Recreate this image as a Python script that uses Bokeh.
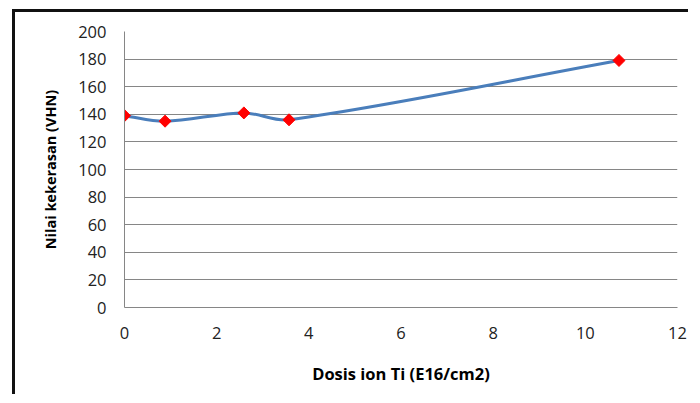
import numpy as np
from bokeh.plotting import figure
from bokeh.models import FixedTicker
from bokeh.embed import file_html
from bokeh.resources import INLINE

# Data
dose = [0, 0.88, 2.59, 3.57, 10.73]
hardness = [139, 135, 141, 136, 179]
x_ticks = [0, 2, 4, 6, 8, 10, 12]
y_ticks = [0, 20, 40, 60, 80, 100, 120, 140, 160, 180, 200]

FONT = "Open Sans"
X_MIN, X_MAX, Y_MIN, Y_MAX = 0, 12, 0, 200
FRAME_W, FRAME_H = 553, 276  # plot area size in px (used for smoothing in screen space)

p = figure(width=676, height=385, output_backend="svg", toolbar_location=None,
           x_range=(X_MIN, X_MAX), y_range=(Y_MIN, Y_MAX),
           min_border_left=109, min_border_right=14, min_border_top=19, min_border_bottom=90)
p.outline_line_color = None
p.background_fill_color = "white"
p.border_fill_color = "white"
p.styles = {"border-left": "3px solid #111111", "border-top": "3px solid #111111",
            "margin-left": "12px", "margin-top": "9px"}

# Smoothed line: Bezier segments with tangents computed in screen space
sx = FRAME_W / (X_MAX - X_MIN)
sy = FRAME_H / (Y_MAX - Y_MIN)
xs = np.array(dose, dtype=float) * sx
ys = np.array(hardness, dtype=float) * sy
n = len(xs)
tang = []
for i in range(n):
    a = max(i - 1, 0)
    b = min(i + 1, n - 1)
    d = np.array([xs[b] - xs[a], ys[b] - ys[a]])
    tang.append(d / np.hypot(*d))
x0, y0, x1, y1, cx0, cy0, cx1, cy1 = [], [], [], [], [], [], [], []
for i in range(n - 1):
    L = np.hypot(xs[i + 1] - xs[i], ys[i + 1] - ys[i]) / 3
    x0.append(dose[i]); y0.append(hardness[i])
    x1.append(dose[i + 1]); y1.append(hardness[i + 1])
    cx0.append((xs[i] + tang[i][0] * L) / sx)
    cy0.append((ys[i] + tang[i][1] * L) / sy)
    cx1.append((xs[i + 1] - tang[i + 1][0] * L) / sx)
    cy1.append((ys[i + 1] - tang[i + 1][1] * L) / sy)
p.bezier(x0=x0, y0=y0, x1=x1, y1=y1, cx0=cx0, cy0=cy0, cx1=cx1, cy1=cy1,
         line_color="#4A7EBB", line_width=3)

p.scatter(dose, hardness, marker="square", angle=np.pi / 4, size=8.5,
          fill_color="#FF0000", line_color="#FF0000")

# Axes
p.xaxis.ticker = FixedTicker(ticks=x_ticks)
p.yaxis.ticker = FixedTicker(ticks=y_ticks)
for ax in (p.xaxis[0], p.yaxis[0]):
    ax.major_tick_line_color = None
    ax.minor_tick_line_color = None
    ax.major_tick_out = 0
    ax.major_tick_in = 0
    ax.minor_tick_out = 0
    ax.axis_line_color = "#868686"
    ax.major_label_text_font = FONT
    ax.major_label_text_font_size = "16.5px"
    ax.major_label_text_color = "#222222"
    ax.axis_label_text_font = FONT
    ax.axis_label_text_font_style = "bold"
    ax.axis_label_text_color = "#000000"
p.xaxis.axis_label_text_font_size = "16.5px"
p.yaxis.axis_label_text_font_size = "14.5px"
p.xaxis.axis_label = "Dosis ion Ti (E16/cm2)"
p.yaxis.axis_label = "Nilai kekerasan (VHN)"
p.xaxis.major_label_standoff = 19
p.yaxis.major_label_standoff = 18
p.xaxis.axis_label_standoff = 20
p.yaxis.axis_label_standoff = 15

p.xgrid.grid_line_color = None
p.ygrid.grid_line_color = "#868686"
p.ygrid.grid_line_width = 1

open("out.html", "w").write(file_html(p, INLINE))
